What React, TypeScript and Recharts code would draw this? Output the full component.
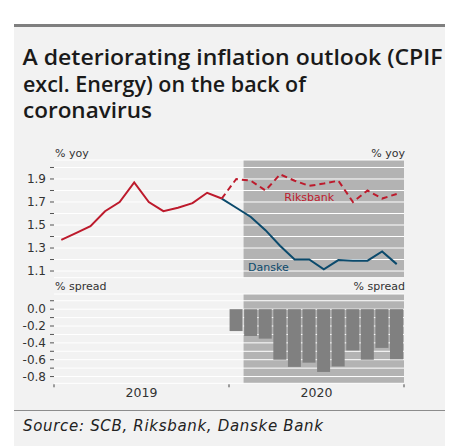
import { ComposedChart, Line, Bar, XAxis, YAxis, CartesianGrid, ReferenceArea, ReferenceDot } from 'recharts'

// monthly, Jan 2019 - Dec 2020
const months = [
    'Jan 19', 'Feb 19', 'Mar 19', 'Apr 19', 'May 19', 'Jun 19',
    'Jul 19', 'Aug 19', 'Sep 19', 'Oct 19', 'Nov 19', 'Dec 19',
    'Jan 20', 'Feb 20', 'Mar 20', 'Apr 20', 'May 20', 'Jun 20',
    'Jul 20', 'Aug 20', 'Sep 20', 'Oct 20', 'Nov 20', 'Dec 20',
]

// CPIF excl. energy, outcome
const actual = [
    1.37, 1.43, 1.49, 1.62, 1.70, 1.87, 1.70, 1.62, 1.65, 1.69, 1.78, 1.73,
    null, null, null, null, null, null, null, null, null, null, null, null,
]

const riksbank = [
    null, null, null, null, null, null, null, null, null, null, null, 1.73,
    1.90, 1.885, 1.80, 1.94, 1.885, 1.84, 1.86, 1.885, 1.70, 1.80, 1.73, 1.77,
]

const danske = [
    null, null, null, null, null, null, null, null, null, null, null, 1.73,
    1.65, 1.57, 1.455, 1.32, 1.20, 1.20, 1.115, 1.195, 1.19, 1.19, 1.27, 1.16,
]

const spread = [
    null, null, null, null, null, null, null, null, null, null, null, null,
    -0.26, -0.32, -0.35, -0.60, -0.685, -0.635, -0.745, -0.68, -0.49, -0.60, -0.46, -0.595,
]

const yoyTicks = [1.1, 1.2, 1.3, 1.4, 1.5, 1.6, 1.7, 1.8, 1.9, 2.0]
const spreadTicks = [0.1, 0, -0.1, -0.2, -0.3, -0.4, -0.5, -0.6, -0.7, -0.8]
const yearTicks = ['Jan 19', 'Jan 20', 'Dec 20']
const forecastFrom = 'Feb 20'
const forecastTo = 'Dec 20'

const data = months.map((m, i) => ({
    month: m,
    actual: actual[i],
    riksbank: riksbank[i],
    danske: danske[i],
    spread: spread[i],
}))

const RED = '#bd1a2c'
const NAVY = '#0b4a6c'
const SHADE = '#b3b3b3'
const FONT = 'DejaVu Sans, sans-serif'

const tickStyle = { fill: '#333', fontSize: 12, fontFamily: FONT }

const oddOnly = (v: number) => (Math.round(v * 10) % 2 !== 0 ? v.toFixed(1) : '')
const evenOnly = (v: number) => (Math.round(v * 10) % 2 === 0 ? v.toFixed(1) : '')

function YearTick(props: any) {
    const { x, y, payload } = props
    const half = payload.offset ?? 0
    const v: string = payload.value
    if (v === 'Dec 20') {
        return <line x1={x + half} x2={x + half} y1={y + 1} y2={y + 4} stroke="#444" />
    }
    const start = x - half
    return (
        <g>
            <line x1={start} x2={start} y1={y + 1} y2={y + 4} stroke="#444" />
            <text x={start + 12 * half} y={y + 14} textAnchor="middle" fill="#333" fontSize={12.5} fontFamily={FONT}>
                {'20' + v.slice(4)}
            </text>
        </g>
    )
}

function yAxes(domain: number[], ticks: number[], fmt: (v: number) => string) {
    return [
        <YAxis
            key="l"
            yAxisId="l"
            orientation="left"
            width={54}
            domain={domain}
            ticks={ticks}
            interval={0}
            tickFormatter={fmt}
            axisLine={false}
            tickLine={{ stroke: '#555' }}
            tickSize={4}
            tickMargin={4}
            tick={tickStyle}
        />,
        <YAxis
            key="r"
            yAxisId="r"
            orientation="right"
            width={46}
            domain={domain}
            ticks={ticks}
            interval={0}
            tickFormatter={fmt}
            axisLine={false}
            tickLine={{ stroke: '#555' }}
            tickSize={4}
            tickMargin={5}
            tick={{ ...tickStyle, textAnchor: 'start' }}
        />,
    ]
}

export default function App() {
    return (
        <div style={{ position: 'fixed', left: 0, top: 0, width: 450, height: 446, background: '#fff', fontFamily: FONT }}>
            <div style={{ position: 'absolute', left: 14, top: 27, width: 431, height: 419, background: '#f2f2f2' }} />

            <svg width={450} height={446} style={{ position: 'absolute', left: 0, top: 0 }}>
                <rect x={14} y={24} width={431} height={3} fill="#7f7f7f" />
                <g fontFamily="'Open Sans', sans-serif" fontWeight={600} fontSize={21} fill="#1a1a1a">
                    <text x={22.5} y={65} textLength={420} lengthAdjust="spacingAndGlyphs">A deteriorating inflation outlook (CPIF</text>
                    <text x={23} y={92} textLength={283} lengthAdjust="spacingAndGlyphs">excl. Energy) on the back of</text>
                    <text x={23} y={118} textLength={129} lengthAdjust="spacingAndGlyphs">coronavirus</text>
                </g>
                <text x={55} y={157} fontSize={11} fill="#333" fontFamily={FONT}>% yoy</text>
                <text x={405} y={157} fontSize={11} fill="#333" fontFamily={FONT} textAnchor="end">% yoy</text>
                <text x={55} y={290} fontSize={11} fill="#333" fontFamily={FONT}>% spread</text>
                <text x={405} y={290} fontSize={11} fill="#333" fontFamily={FONT} textAnchor="end">% spread</text>
                <line x1={14} x2={445} y1={410.5} y2={410.5} stroke="#8c8c8c" strokeWidth={1} />
                <text x={23} y={431} fontSize={15} fontStyle="italic" fill="#222" fontFamily={FONT} textLength={300} lengthAdjust="spacing">
                    Source: SCB, Riksbank, Danske Bank
                </text>
            </svg>

            <div style={{ position: 'absolute', left: 0, top: 140 }}>
                <ComposedChart width={450} height={140} data={data} margin={{ top: 20, right: 0, bottom: 2.3, left: 0 }}>
                    <XAxis dataKey="month" scale="band" hide />
                    {yAxes([1.042, 2.065], yoyTicks, oddOnly)}
                    <ReferenceArea yAxisId="l" x1={forecastFrom} x2={forecastTo} fill={SHADE} fillOpacity={1} stroke="none" zIndex={-200} />
                    <CartesianGrid yAxisId="l" vertical={false} stroke="#fff" strokeWidth={1} zIndex={-100} />
                    <Line yAxisId="l" dataKey="actual" stroke={RED} strokeWidth={2} dot={false} isAnimationActive={false} />
                    <Line yAxisId="l" dataKey="danske" stroke={NAVY} strokeWidth={2} dot={false} isAnimationActive={false} />
                    <Line yAxisId="l" dataKey="riksbank" stroke={RED} strokeWidth={2} strokeDasharray="6 4" dot={false} isAnimationActive={false} />
                    <ReferenceDot
                        yAxisId="l"
                        x="Jun 20"
                        y={1.746}
                        r={0}
                        fill="none"
                        stroke="none"
                        label={{ value: 'Riksbank', position: 'center', fill: RED, fontSize: 11, fontFamily: FONT }}
                    />
                    <ReferenceDot
                        yAxisId="l"
                        x="Mar 20"
                        y={1.135}
                        r={0}
                        fill="none"
                        stroke="none"
                        label={{ value: 'Danske', position: 'center', fill: NAVY, fontSize: 11, fontFamily: FONT, dx: 3 }}
                    />
                </ComposedChart>
            </div>

            <div style={{ position: 'absolute', left: 0, top: 280 }}>
                <ComposedChart width={450} height={130} data={data} margin={{ top: 14, right: 0, bottom: 0, left: 0 }} barCategoryGap="4%">
                    <XAxis
                        dataKey="month"
                        scale="band"
                        height={26.7}
                        ticks={yearTicks}
                        interval={0}
                        axisLine={false}
                        tickLine={false}
                        tickSize={0}
                        tickMargin={0}
                        tick={<YearTick />}
                    />
                    {yAxes([-0.88, 0.18], spreadTicks, evenOnly)}
                    <ReferenceArea yAxisId="l" x1={forecastFrom} x2={forecastTo} fill={SHADE} fillOpacity={1} stroke="none" zIndex={-200} />
                    <CartesianGrid yAxisId="l" vertical={false} stroke="#fff" strokeWidth={1} zIndex={-100} />
                    <Bar yAxisId="l" dataKey="spread" fill="#808080" isAnimationActive={false} />
                </ComposedChart>
            </div>
        </div>
    )
}
